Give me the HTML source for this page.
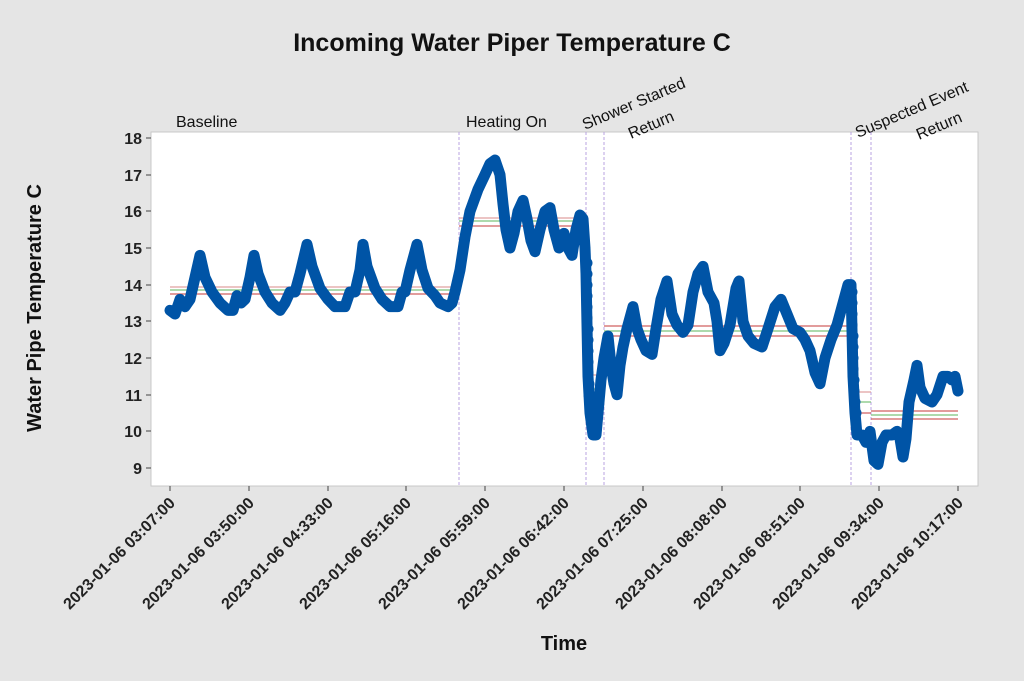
<!DOCTYPE html>
<html><head><meta charset="utf-8"><style>
body{margin:0;background:#e5e5e5;}
svg{display:block;font-family:"Liberation Sans",sans-serif;}
</style></head><body>
<svg width="1024" height="681" viewBox="0 0 1024 681" xmlns="http://www.w3.org/2000/svg">
<rect width="1024" height="681" fill="#e5e5e5"/>
<text x="512" y="51" text-anchor="middle" font-size="25" font-weight="bold" fill="#111">Incoming Water Piper Temperature C</text>
<rect x="151" y="132" width="827" height="354" fill="#fff" stroke="#c8c8c8" stroke-width="1"/>
<g font-size="16" fill="#111">
<text x="176" y="127">Baseline</text>
<text x="466" y="127">Heating On</text>
<text transform="translate(585,130) rotate(-23)">Shower Started</text>
<text transform="translate(631,139) rotate(-23)">Return</text>
<text transform="translate(858,138) rotate(-23)">Suspected Event</text>
<text transform="translate(919,140) rotate(-23)">Return</text>
</g>
<g stroke="#b9a3e0" stroke-dasharray="3,2" stroke-width="1">
<line x1="459" y1="132" x2="459" y2="486"/><line x1="586" y1="132" x2="586" y2="486"/>
<line x1="604" y1="132" x2="604" y2="486"/><line x1="851" y1="132" x2="851" y2="486"/>
<line x1="871" y1="132" x2="871" y2="486"/>
</g>
<g font-size="16" font-weight="bold" fill="#222" text-anchor="end">
<g stroke="#444"><line x1="151" y1="138" x2="146" y2="138"/><line x1="151" y1="175" x2="146" y2="175"/><line x1="151" y1="211" x2="146" y2="211"/><line x1="151" y1="248" x2="146" y2="248"/><line x1="151" y1="285" x2="146" y2="285"/><line x1="151" y1="321" x2="146" y2="321"/><line x1="151" y1="358" x2="146" y2="358"/><line x1="151" y1="395" x2="146" y2="395"/><line x1="151" y1="431" x2="146" y2="431"/><line x1="151" y1="468" x2="146" y2="468"/></g>
<text x="142" y="144">18</text><text x="142" y="181">17</text><text x="142" y="217">16</text><text x="142" y="254">15</text><text x="142" y="291">14</text><text x="142" y="327">13</text><text x="142" y="364">12</text><text x="142" y="401">11</text><text x="142" y="437">10</text><text x="142" y="474">9</text>
</g>
<text transform="translate(41,308) rotate(-90)" text-anchor="middle" font-size="20" font-weight="bold" fill="#111">Water Pipe Temperature C</text>
<text x="564" y="650" text-anchor="middle" font-size="20" font-weight="bold" fill="#111">Time</text>
<g font-size="16" font-weight="bold" fill="#222" text-anchor="end">
<g stroke="#444"><line x1="170" y1="486" x2="170" y2="491"/><line x1="249" y1="486" x2="249" y2="491"/><line x1="328" y1="486" x2="328" y2="491"/><line x1="406" y1="486" x2="406" y2="491"/><line x1="485" y1="486" x2="485" y2="491"/><line x1="564" y1="486" x2="564" y2="491"/><line x1="643" y1="486" x2="643" y2="491"/><line x1="722" y1="486" x2="722" y2="491"/><line x1="800" y1="486" x2="800" y2="491"/><line x1="879" y1="486" x2="879" y2="491"/><line x1="958" y1="486" x2="958" y2="491"/></g>
<text transform="translate(176,504) rotate(-45)">2023-01-06 03:07:00</text>
<text transform="translate(255,504) rotate(-45)">2023-01-06 03:50:00</text>
<text transform="translate(334,504) rotate(-45)">2023-01-06 04:33:00</text>
<text transform="translate(412,504) rotate(-45)">2023-01-06 05:16:00</text>
<text transform="translate(491,504) rotate(-45)">2023-01-06 05:59:00</text>
<text transform="translate(570,504) rotate(-45)">2023-01-06 06:42:00</text>
<text transform="translate(649,504) rotate(-45)">2023-01-06 07:25:00</text>
<text transform="translate(728,504) rotate(-45)">2023-01-06 08:08:00</text>
<text transform="translate(806,504) rotate(-45)">2023-01-06 08:51:00</text>
<text transform="translate(885,504) rotate(-45)">2023-01-06 09:34:00</text>
<text transform="translate(964,504) rotate(-45)">2023-01-06 10:17:00</text>
</g>
<g stroke-width="1.2">
<line x1="170" x2="455" y1="287" y2="287" stroke="#e0a0a0"/><line x1="170" x2="455" y1="290" y2="290" stroke="#7cc47c"/><line x1="170" x2="455" y1="294" y2="294" stroke="#d06060"/>
<line x1="459" x2="585" y1="218" y2="218" stroke="#e0a0a0"/><line x1="459" x2="585" y1="221" y2="221" stroke="#7cc47c"/><line x1="459" x2="585" y1="226" y2="226" stroke="#d06060"/>
<line x1="586" x2="604" y1="375" y2="375" stroke="#e0a0a0"/><line x1="586" x2="604" y1="389" y2="389" stroke="#7cc47c"/><line x1="586" x2="604" y1="403" y2="403" stroke="#d06060"/>
<line x1="604" x2="851" y1="326" y2="326" stroke="#d06060"/><line x1="604" x2="851" y1="331" y2="331" stroke="#7cc47c"/><line x1="604" x2="851" y1="336" y2="336" stroke="#d06060"/>
<line x1="851" x2="871" y1="392" y2="392" stroke="#e0a0a0"/><line x1="851" x2="871" y1="402" y2="402" stroke="#7cc47c"/><line x1="851" x2="871" y1="413" y2="413" stroke="#d06060"/>
<line x1="871" x2="958" y1="411" y2="411" stroke="#d06060"/><line x1="871" x2="958" y1="415" y2="415" stroke="#7cc47c"/><line x1="871" x2="958" y1="419" y2="419" stroke="#d06060"/>
</g>
<g transform="translate(0,798.06) scale(1,-36.67)">
<polyline fill="none" stroke="#0054a6" stroke-width="11" stroke-linejoin="round" stroke-linecap="round" vector-effect="non-scaling-stroke" points="170,13.3 175,13.2 180,13.6 185,13.4 190,13.6 195,14.2 200,14.8 205,14.2 212,13.8 220,13.5 228,13.3 233,13.3 237,13.7 241,13.5 245,13.6 250,14.2 254,14.8 258,14.3 265,13.8 272,13.5 280,13.3 285,13.5 290,13.8 295,13.8 300,14.3 307,15.1 312,14.5 320,13.9 328,13.6 335,13.4 345,13.4 350,13.8 355,13.8 360,14.4 363,15.1 367,14.5 375,13.9 382,13.6 390,13.4 398,13.4 402,13.8 405,13.8 410,14.4 417,15.1 422,14.4 428,13.9 435,13.7 440,13.5 448,13.4 452,13.5 455,13.8 460,14.4 465,15.3 470,16.0 478,16.6 485,17.0 490,17.3 495,17.4 500,17.0 503,16.2 506,15.5 510,15.0 514,15.4 518,16.0 523,16.3 527,15.8 531,15.2 535,14.9 540,15.5 545,16.0 550,16.1 554,15.5 559,15.0 564,15.4 568,15.0 572,14.8 576,15.5 580,15.9 583,15.8 585,15.0 586,14.3 588,11.5 590,10.5 593,9.9 596,9.9 598,10.5 601,11.4 604,12.0 608,12.6 611,11.8 614,11.3 617,11.0 620,11.8 623,12.3 627,12.8 633,13.4 637,12.8 641,12.5 646,12.2 652,12.1 656,12.8 661,13.6 667,14.1 672,13.2 677,12.9 683,12.7 688,12.9 693,13.8 698,14.3 703,14.5 708,13.8 714,13.5 717,13.0 720,12.2 724,12.4 730,12.9 736,13.9 739,14.1 743,13.0 748,12.6 754,12.4 762,12.3 768,12.8 775,13.4 781,13.6 787,13.2 793,12.8 800,12.7 805,12.5 810,12.2 815,11.6 820,11.3 825,12.0 831,12.5 837,12.9 843,13.5 848,14.0 851,14.0 853,11.5 855,10.5 857,9.9 862,9.9 866,9.7 870,10.0 874,9.2 878,9.1 882,9.7 886,9.9 892,9.9 897,10.0 900,9.8 903,9.3 906,9.8 909,10.8 914,11.4 917,11.8 920,11.2 925,10.9 932,10.8 937,11.0 943,11.5 948,11.5 952,11.4 955,11.5 958,11.1"/>
</g>
<g fill="#0054a6">
<circle cx="587" cy="263" r="5.5"/><circle cx="587" cy="274" r="5.5"/><circle cx="587" cy="285" r="5.5"/><circle cx="587" cy="296" r="5.5"/><circle cx="587" cy="307" r="5.5"/><circle cx="587" cy="318" r="5.5"/><circle cx="588" cy="329" r="5.5"/><circle cx="588" cy="340" r="5.5"/><circle cx="588" cy="351" r="5.5"/><circle cx="588" cy="362" r="5.5"/><circle cx="588" cy="373" r="5.5"/><circle cx="589" cy="384" r="5.5"/><circle cx="589" cy="395" r="5.5"/>
<circle cx="852" cy="292" r="5.5"/><circle cx="852" cy="303" r="5.5"/><circle cx="852" cy="314" r="5.5"/><circle cx="852" cy="325" r="5.5"/><circle cx="853" cy="336" r="5.5"/><circle cx="853" cy="347" r="5.5"/><circle cx="853" cy="358" r="5.5"/><circle cx="853" cy="369" r="5.5"/><circle cx="854" cy="380" r="5.5"/><circle cx="854" cy="391" r="5.5"/><circle cx="855" cy="402" r="5.5"/><circle cx="856" cy="413" r="5.5"/>
</g>
</svg>
</body></html>
